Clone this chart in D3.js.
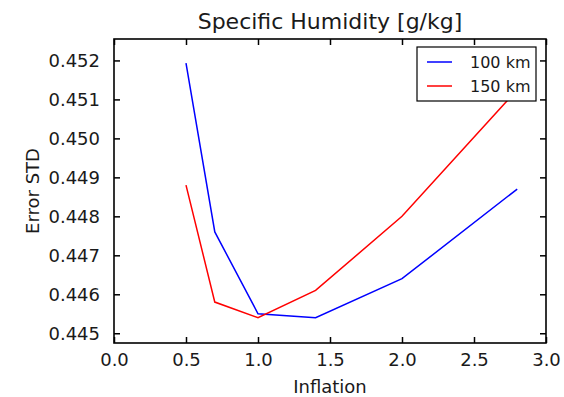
<!DOCTYPE html>
<html>
<head>
<meta charset="utf-8">
<script src="https://cdn.jsdelivr.net/npm/d3@7"></script>
<style>
  body { margin: 0; background: #fff; }
  text { font-family: "DejaVu Sans", sans-serif; fill: #1a1a1a; }
</style>
</head>
<body>
<div id="chart"></div>
<script>
// inflation values (x) and error std for each localization radius
const inflation = [0.5, 0.7, 1.0, 1.4, 2.0, 2.8];
const std100 = [0.45193, 0.44760, 0.44550, 0.44540, 0.44640, 0.44870];
const std150 = [0.44880, 0.44580, 0.44540, 0.44610, 0.44800, 0.45125];
const seriesNames = ["100 km", "150 km"];
const seriesColors = ["#0000ff", "#ff0000"];
const xTicks = [0, 0.5, 1.0, 1.5, 2.0, 2.5, 3.0];
const yTicks = [0.445, 0.446, 0.447, 0.448, 0.449, 0.450, 0.451, 0.452];

let width = 564, height = 397;
let margin = {left: 114, right: 18, top: 39, bottom: 54};
let svg = d3.select("#chart").append("svg")
  .attr("width", width)
  .attr("height", height);

let x = d3.scaleLinear().domain([0, 3]).range([margin.left, width - margin.right]);
let y = d3.scaleLinear().domain([0.44475, 0.45255]).range([height - margin.bottom, margin.top]);

let tk = 6;
// bottom axis
svg.append("g")
  .attr("transform", `translate(0,${height - margin.bottom})`)
  .call(d3.axisBottom(x).tickValues(xTicks).tickFormat(d3.format(".1f")).tickSizeInner(-tk).tickSizeOuter(0).tickPadding(10))
// top axis (ticks only)
svg.append("g")
  .attr("transform", `translate(0,${margin.top})`)
  .call(d3.axisTop(x).tickValues(xTicks).tickFormat("").tickSizeInner(-tk).tickSizeOuter(0))
// left axis
svg.append("g")
  .attr("transform", `translate(${margin.left},0)`)
  .call(d3.axisLeft(y).tickValues(yTicks).tickFormat(d3.format(".3f")).tickSizeInner(-tk).tickSizeOuter(0).tickPadding(14))
// right axis (ticks only)
svg.append("g")
  .attr("transform", `translate(${width - margin.right},0)`)
  .call(d3.axisRight(y).tickValues(yTicks).tickFormat("").tickSizeInner(-tk).tickSizeOuter(0))

svg.selectAll(".domain").remove();
svg.selectAll(".tick line").attr("stroke", "#000").attr("stroke-width", 1.5);
svg.selectAll(".tick text").attr("font-size", 18).attr("fill", "#1a1a1a");

// frame
svg.append("rect")
  .attr("x", margin.left).attr("y", margin.top)
  .attr("width", width - margin.left - margin.right)
  .attr("height", height - margin.top - margin.bottom)
  .attr("fill", "none").attr("stroke", "#000").attr("stroke-width", 1.6);

let line = d3.line().x((d, i) => x(inflation[i])).y(d => y(d));
[std100, std150].forEach((s, i) => {
  svg.append("path")
    .datum(s)
    .attr("d", line)
    .attr("fill", "none")
    .attr("stroke", seriesColors[i])
    .attr("stroke-width", 1.5);
});

// title and labels
svg.append("text")
  .attr("x", (margin.left + width - margin.right) / 2).attr("y", 29)
  .attr("text-anchor", "middle").attr("font-size", 22)
  .text("Specific Humidity [g/kg]");
svg.append("text")
  .attr("x", (margin.left + width - margin.right) / 2).attr("y", 393)
  .attr("text-anchor", "middle").attr("font-size", 18)
  .text("Inflation");
svg.append("text")
  .attr("transform", `translate(39,${(margin.top + height - margin.bottom) / 2}) rotate(-90)`)
  .attr("text-anchor", "middle").attr("font-size", 18)
  .text("Error STD");

// legend
let lg = svg.append("g").attr("transform", "translate(417,47)");
lg.append("rect").attr("width", 119).attr("height", 54)
  .attr("fill", "#fff").attr("stroke", "#000").attr("stroke-width", 1.2);
seriesNames.forEach((n, i) => {
  let yy = 15 + i * 24;
  lg.append("line").attr("x1", 10).attr("x2", 35).attr("y1", yy).attr("y2", yy)
    .attr("stroke", seriesColors[i]).attr("stroke-width", 1.5);
  lg.append("text").attr("x", 53).attr("y", yy + 6).attr("font-size", 16).text(n);
});
</script>
</body>
</html>
